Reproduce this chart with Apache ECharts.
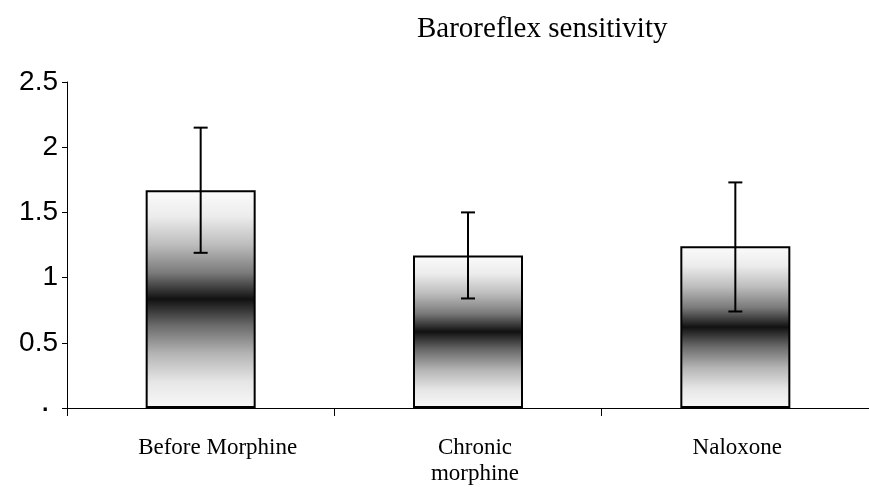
<!DOCTYPE html>
<html>
<head>
<meta charset="utf-8">
<script src="https://cdn.jsdelivr.net/npm/echarts@6/dist/echarts.min.js"></script>
<style>html,body{margin:0;padding:0;background:#fff;}#c{width:869px;height:487px;}</style>
</head>
<body>
<div id="c"></div>
<script>
const titleText = 'Baroreflex sensitivity';
const categories = ['Before Morphine', 'Chronic\nmorphine', 'Naloxone'];
const means = [1.67, 1.17, 1.24];
const errLow = [1.19, 0.84, 0.74];
const errHigh = [2.15, 1.50, 1.73];
const yTicks = [0, 0.5, 1, 1.5, 2, 2.5];

const chart = echarts.init(document.getElementById('c'));
const barGradient = new echarts.graphic.LinearGradient(0, 0, 0, 1, [
  {offset: 0, color: '#fbfbfb'},
  {offset: 0.12, color: '#ececec'},
  {offset: 0.25, color: '#bdbdbd'},
  {offset: 0.38, color: '#7a7a7a'},
  {offset: 0.5, color: '#111111'},
  {offset: 0.62, color: '#6a6a6a'},
  {offset: 0.75, color: '#b4b4b4'},
  {offset: 0.88, color: '#e6e6e6'},
  {offset: 1, color: '#f8f8f8'}
]);
const labelFont = {fontFamily: 'Liberation Serif', fontSize: 23, lineHeight: 26, color: '#000'};
const labelRich = {
  l0: Object.assign({padding: [0, 0, 0, 34]}, labelFont),
  l1: Object.assign({padding: [0, 0, 0, 14]}, labelFont),
  l2: Object.assign({padding: [0, 0, 0, 4]}, labelFont)
};
chart.setOption({
  animation: false,
  backgroundColor: '#fff',
  title: {
    text: titleText,
    left: 412, top: 10,
    textStyle: {fontFamily: 'Liberation Serif', fontSize: 29, fontWeight: 'normal', color: '#000'}
  },
  grid: {left: 67, right: -8, top: 82, bottom: 77, containLabel: false},
  xAxis: {
    type: 'category',
    data: categories,
    axisLine: {lineStyle: {color: '#000', width: 1}},
    axisTick: {show: true, length: 8, lineStyle: {color: '#000'}},
    axisLabel: Object.assign({
      interval: 0, margin: 27,
      formatter: function (v, i) {
        return v.split('\n').map(function (s) { return '{l' + i + '|' + s + '}'; }).join('\n');
      },
      rich: labelRich
    }, labelFont)
  },
  yAxis: {
    type: 'value',
    min: yTicks[0], max: yTicks[yTicks.length - 1], interval: 0.5,
    splitLine: {show: false},
    axisLine: {show: true, lineStyle: {color: '#000', width: 1}},
    axisTick: {show: true, length: 5, lineStyle: {color: '#000'}},
    axisLabel: {
      margin: 9,
      fontFamily: 'Liberation Sans', fontSize: 28, color: '#000',
      formatter: function (v) { return v === 0 ? '{dot|.}' : String(v); },
      rich: {dot: {fontFamily: 'Liberation Sans', fontSize: 34, color: '#000', padding: [0, 8, 12, 0]}}
    }
  },
  series: [
    {
      type: 'bar',
      data: means,
      barWidth: 110,
      itemStyle: {color: barGradient, borderColor: '#000', borderWidth: 2}
    },
    {
      type: 'custom',
      data: categories.map((c, i) => [i, errLow[i], errHigh[i]]),
      z: 5,
      renderItem: function (params, api) {
        const lo = api.coord([api.value(0), api.value(1)]);
        const hi = api.coord([api.value(0), api.value(2)]);
        const hw = 7;
        const st = {stroke: '#000', lineWidth: 2};
        return {
          type: 'group',
          children: [
            {type: 'line', shape: {x1: hi[0], y1: hi[1], x2: lo[0], y2: lo[1]}, style: st},
            {type: 'line', shape: {x1: hi[0] - hw, y1: hi[1], x2: hi[0] + hw, y2: hi[1]}, style: st},
            {type: 'line', shape: {x1: lo[0] - hw, y1: lo[1], x2: lo[0] + hw, y2: lo[1]}, style: st}
          ]
        };
      }
    }
  ]
});
</script>
</body>
</html>
